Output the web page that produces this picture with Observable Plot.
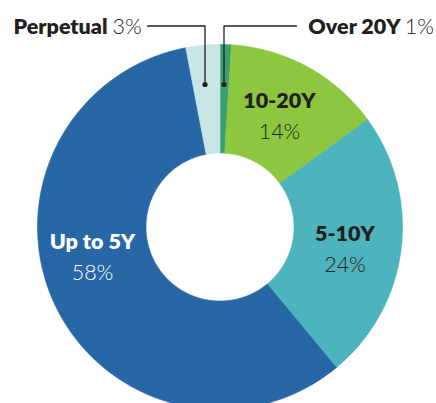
<!DOCTYPE html>
<html><head><meta charset="utf-8">
<script src="https://cdn.jsdelivr.net/npm/d3@7"></script>
<script src="https://cdn.jsdelivr.net/npm/@observablehq/plot@0.6"></script>
<style>body{margin:0;background:#fff}#chart svg{display:block}</style>
</head><body><div id="chart"></div>
<script>
// ---- data ----
const categories = ["Over 20Y", "10-20Y", "5-10Y", "Up to 5Y", "Perpetual"];
const shares = [1, 14, 24, 58, 3];
const pctLabels = ["1%", "14%", "24%", "58%", "3%"];

// ---- styles / layout ----
const colors = ["#3b9f72", "#8dc63f", "#4db3bd", "#2767a5", "#c8e6e6"];
const W = 436, H = 403;
const CX = 219.5, CY = 226.5, R_OUT = 182.5, R_IN = 74;
const FONT = "Lato, 'Open Sans', sans-serif";
const INK = "#231f20";
const FS = 21.5;
const BOLD = 800, LIGHT = 300;

// slice polygons from shares (clockwise from 12 o'clock)
const total = d3.sum(shares);
const rows = [];
let acc = 0;
categories.forEach((cat, i) => {
  const a0 = acc / total * 2 * Math.PI;
  acc += shares[i];
  const a1 = acc / total * 2 * Math.PI;
  const n = Math.max(4, Math.ceil((a1 - a0) * 90));
  const pts = [];
  for (let k = 0; k <= n; k++) { const a = a0 + (a1 - a0) * k / n; pts.push([CX + R_OUT * Math.sin(a), CY - R_OUT * Math.cos(a)]); }
  for (let k = n; k >= 0; k--) { const a = a0 + (a1 - a0) * k / n; pts.push([CX + R_IN * Math.sin(a), CY - R_IN * Math.cos(a)]); }
  pts.push(pts[0]);
  pts.forEach(([x, y]) => rows.push({cat, x, y}));
});

// in-slice labels (layout positions, baselines)
const inLabels = [
  {cat: "10-20Y", i: 1, x: 279, y: 107, fill: INK},
  {cat: "5-10Y", i: 2, x: 344.5, y: 240.5, fill: INK},
  {cat: "Up to 5Y", i: 3, x: 92, y: 248, fill: "#ffffff"}
];
// outside labels with leaders
const outLabels = [
  {cat: "Perpetual", i: 4, x: 13, y: 33, anchor: "start"},
  {cat: "Over 20Y", i: 0, x: 433.5, y: 33, anchor: "end"}
];
const leaders = [
  {g: "p", x: 147, y: 25.5}, {g: "p", x: 204.5, y: 25.5}, {g: "p", x: 204.5, y: 84},
  {g: "o", x: 296, y: 25.5}, {g: "o", x: 223.5, y: 25.5}, {g: "o", x: 223.5, y: 84}
];
const leaderDots = [{x: 204.5, y: 84}, {x: 223.5, y: 84}];

const chart = Plot.plot({
  width: W, height: H,
  margin: 0,
  x: {domain: [0, W], range: [0, W], axis: null},
  y: {domain: [0, H], range: [0, H], axis: null},
  color: {domain: categories, range: colors},
  style: {fontFamily: FONT, background: "#fff"},
  marks: [
    Plot.line(rows, {x: "x", y: "y", z: "cat", fill: "cat", stroke: "cat", strokeWidth: 0.6, curve: "linear"}),
    Plot.line(leaders, {x: "x", y: "y", z: "g", stroke: INK, strokeWidth: 1.3}),
    Plot.dot(leaderDots, {x: "x", y: "y", r: 2.6, fill: INK, stroke: null}),
    Plot.text(inLabels, {x: "x", y: "y", text: "cat", fill: "fill", fontWeight: BOLD, fontSize: FS, lineAnchor: "bottom", textAnchor: "middle", fontFamily: FONT}),
    Plot.text(inLabels, {x: "x", y: d => d.y + 31, text: d => pctLabels[d.i], fill: "fill", fontWeight: LIGHT, fontSize: FS, lineAnchor: "bottom", textAnchor: "middle", fontFamily: FONT}),
    Plot.text(outLabels.filter(d => d.anchor === "start"), {x: "x", y: "y", text: d => d.cat + "\u00a0" + pctLabels[d.i], fill: INK, fontWeight: BOLD, fontSize: FS, lineAnchor: "bottom", textAnchor: "start", fontFamily: FONT, className: "outlbl"}),
    Plot.text(outLabels.filter(d => d.anchor === "end"), {x: "x", y: "y", text: d => d.cat + "\u00a0" + pctLabels[d.i], fill: INK, fontWeight: BOLD, fontSize: FS, lineAnchor: "bottom", textAnchor: "end", fontFamily: FONT, className: "outlbl"})
  ]
});
// split outside labels: bold name, light percentage
d3.select(chart).selectAll("g.outlbl text").each(function () {
  const t = this.textContent;
  const k = t.lastIndexOf("\u00a0");
  const sel = d3.select(this);
  sel.text(null);
  sel.append("tspan").attr("font-weight", BOLD).text(t.slice(0, k + 1));
  sel.append("tspan").attr("font-weight", LIGHT).text(t.slice(k + 1));
});
document.getElementById("chart").appendChild(chart);
</script>
</body></html>
